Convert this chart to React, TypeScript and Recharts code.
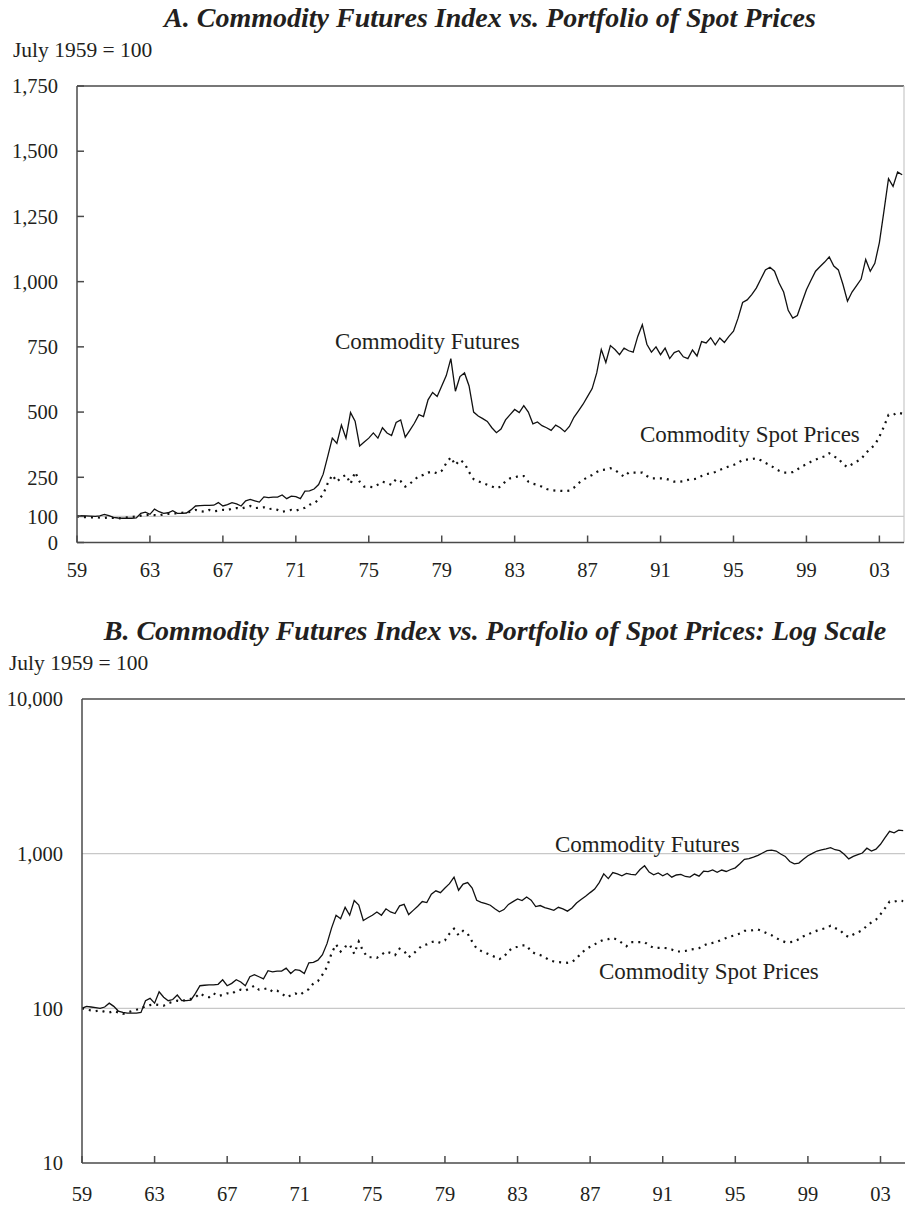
import { LineChart, Line, XAxis, YAxis, ReferenceLine } from 'recharts';

// quarterly observations, first one is 1959 Q1
const startYear = 1959;
const endYear = 2004.35;

const futures: number[] = [
  100, 103, 102, 101, // 1959
  100, 102, 108, 103, // 1960
  96, 94, 93, 93, // 1961
  93, 94, 112, 116, // 1962
  108, 128, 118, 112, // 1963
  114, 122, 112, 112, // 1964
  113, 125, 140, 141, // 1965
  142, 142, 143, 153, // 1966
  140, 145, 153, 148, // 1967
  140, 160, 165, 160, // 1968
  155, 175, 172, 174, // 1969
  174, 182, 168, 178, // 1970
  176, 168, 197, 198, // 1971
  205, 222, 262, 330, // 1972
  400, 380, 450, 400, // 1973
  498, 465, 370, 385, // 1974
  400, 420, 400, 440, // 1975
  420, 410, 460, 470, // 1976
  404, 430, 457, 490, // 1977
  483, 547, 575, 560, // 1978
  600, 640, 705, 580, // 1979
  636, 650, 600, 500, // 1980
  485, 475, 464, 440, // 1981
  421, 435, 470, 490, // 1982
  510, 498, 525, 500, // 1983
  455, 462, 448, 440, // 1984
  430, 450, 440, 425, // 1985
  445, 480, 505, 530, // 1986
  560, 590, 650, 740, // 1987
  690, 755, 740, 720, // 1988
  745, 735, 730, 790, // 1989
  835, 760, 730, 750, // 1990
  720, 745, 705, 728, // 1991
  735, 712, 705, 738, // 1992
  715, 770, 765, 785, // 1993
  758, 784, 767, 790, // 1994
  810, 860, 920, 930, // 1995
  950, 975, 1010, 1045, // 1996
  1055, 1040, 995, 960, // 1997
  890, 860, 870, 920, // 1998
  969, 1005, 1040, 1058, // 1999
  1075, 1095, 1060, 1045, // 2000
  990, 925, 960, 985, // 2001
  1010, 1085, 1040, 1070, // 2002
  1150, 1270, 1395, 1365, // 2003
  1420, 1410, // 2004
];

const spot: number[] = [
  100, 98, 97, 96, // 1959
  97, 95, 94, 96, // 1960
  94, 92, 94, 96, // 1961
  98, 100, 103, 105, // 1962
  106, 105, 104, 108, // 1963
  110, 112, 111, 114, // 1964
  115, 118, 125, 120, // 1965
  118, 125, 120, 122, // 1966
  125, 124, 130, 132, // 1967
  130, 135, 140, 132, // 1968
  133, 135, 128, 130, // 1969
  125, 118, 121, 125, // 1970
  122, 128, 133, 145, // 1971
  150, 165, 185, 227, // 1972
  259, 233, 250, 259, // 1973
  225, 270, 233, 214, // 1974
  214, 212, 222, 233, // 1975
  228, 221, 243, 235, // 1976
  214, 225, 240, 255, // 1977
  259, 268, 272, 265, // 1978
  275, 304, 327, 297, // 1979
  317, 304, 270, 243, // 1980
  235, 228, 221, 215, // 1981
  208, 215, 235, 246, // 1982
  250, 255, 255, 233, // 1983
  225, 221, 214, 205, // 1984
  201, 199, 198, 197, // 1985
  199, 210, 227, 240, // 1986
  250, 259, 270, 278, // 1987
  280, 285, 278, 265, // 1988
  252, 268, 268, 268, // 1989
  268, 255, 246, 246, // 1990
  246, 245, 240, 233, // 1991
  233, 235, 240, 242, // 1992
  245, 255, 262, 265, // 1993
  270, 278, 285, 292, // 1994
  297, 305, 317, 318, // 1995
  320, 323, 315, 305, // 1996
  297, 285, 275, 268, // 1997
  268, 270, 280, 292, // 1998
  300, 310, 318, 325, // 1999
  330, 342, 330, 323, // 2000
  300, 289, 300, 310, // 2001
  320, 342, 360, 374, // 2002
  406, 444, 489, 489, // 2003
  498, 494, // 2004
];

const yearTicks = [1959, 1963, 1967, 1971, 1975, 1979, 1983, 1987, 1991, 1995, 1999, 2003];
const linearTicks = [0, 100, 250, 500, 750, 1000, 1250, 1500, 1750];
const logTicks = [10, 100, 1000, 10000];

const data = futures.map((f, i) => ({ t: startYear + i / 4, fut: f, spot: spot[i] }));

const FONT = '"Liberation Serif", "Times New Roman", serif';
const INK = '#231f20';
const AXIS = '#4a4a4a';
const GRID = '#c8c8c8';

const fmtYear = (v: number) => String(Math.round(v) % 100).padStart(2, '0');
const fmtNum = (v: number) => v.toLocaleString('en-US');

const tickStyle = { fontFamily: FONT, fontSize: 20.5, fill: INK };

function Text({ top, left, size, children, style }: any) {
  return (
    <div
      style={{
        position: 'absolute',
        top,
        left,
        fontFamily: FONT,
        fontSize: size,
        lineHeight: `${size}px`,
        color: INK,
        whiteSpace: 'nowrap',
        ...style,
      }}
    >
      {children}
    </div>
  );
}

function Title({ top, center, children }: any) {
  return (
    <div
      style={{
        position: 'absolute',
        top,
        left: center - 450,
        width: 900,
        textAlign: 'center',
        fontFamily: FONT,
        fontSize: 28,
        lineHeight: '28px',
        fontWeight: 'bold',
        fontStyle: 'italic',
        color: INK,
        whiteSpace: 'nowrap',
      }}
    >
      {children}
    </div>
  );
}

function Series() {
  return null;
}

export default function App() {
  return (
    <div style={{ position: 'absolute', top: 0, left: 0, width: 905, height: 1208, background: '#fff', overflow: 'hidden' }}>
      <Title top={4} center={490}>A. Commodity Futures Index vs. Portfolio of Spot Prices</Title>
      <Text top={40} left={13} size={21.5}>July 1959 = 100</Text>

      <div style={{ position: 'absolute', top: 0, left: 0 }}>
        <LineChart width={905} height={600} data={data} margin={{ top: 86, right: 1, left: 0, bottom: 17.5 }}>
          <XAxis
            dataKey="t"
            type="number"
            domain={[startYear, endYear]}
            ticks={yearTicks}
            interval={0}
            allowDataOverflow
            tickFormatter={fmtYear}
            height={40}
            tickSize={-7}
            tickMargin={27}
            stroke={AXIS}
            strokeWidth={1.5}
            tick={tickStyle}
          />
          <YAxis
            type="number"
            domain={[0, 1750]}
            ticks={linearTicks}
            interval={0}
            allowDataOverflow
            tickFormatter={fmtNum}
            width={77}
            tickSize={-7}
            tickMargin={26}
            stroke={AXIS}
            strokeWidth={1.5}
            tick={tickStyle}
          />
          <ReferenceLine y={100} stroke={GRID} strokeWidth={1.2} />
          <ReferenceLine y={1750} stroke={AXIS} strokeWidth={1.5} />
          <ReferenceLine x={endYear} stroke={GRID} strokeWidth={1.2} />
          <Line dataKey="spot" type="linear" stroke="#111" strokeWidth={2.2} strokeDasharray="2 5" dot={false} isAnimationActive={false} />
          <Line dataKey="fut" type="linear" stroke="#111" strokeWidth={1.3} dot={false} isAnimationActive={false} />
        </LineChart>
      </div>

      <Text top={330} left={335} size={23}>Commodity Futures</Text>
      <Text top={423} left={640} size={23}>Commodity Spot Prices</Text>

      <Title top={617} center={495}>B. Commodity Futures Index vs. Portfolio of Spot Prices: Log Scale</Title>
      <Text top={653} left={9} size={21.5}>July 1959 = 100</Text>

      <div style={{ position: 'absolute', top: 600, left: 0 }}>
        <LineChart width={905} height={608} data={data} margin={{ top: 99, right: 0, left: 0, bottom: 5 }}>
          <XAxis
            dataKey="t"
            type="number"
            domain={[startYear, endYear]}
            ticks={yearTicks}
            interval={0}
            allowDataOverflow
            tickFormatter={fmtYear}
            height={40}
            tickSize={-7}
            tickMargin={30}
            stroke={AXIS}
            strokeWidth={1.5}
            tick={tickStyle}
          />
          <YAxis
            type="number"
            scale="log"
            domain={[10, 10000]}
            ticks={logTicks}
            interval={0}
            allowDataOverflow
            tickFormatter={fmtNum}
            width={82}
            tickSize={0}
            tickMargin={19}
            stroke={AXIS}
            strokeWidth={1.5}
            tick={tickStyle}
          />
          <ReferenceLine y={100} stroke={GRID} strokeWidth={1.2} />
          <ReferenceLine y={1000} stroke={GRID} strokeWidth={1.2} />
          <ReferenceLine y={10000} stroke={AXIS} strokeWidth={1.5} />
          <Line dataKey="spot" type="linear" stroke="#111" strokeWidth={2.2} strokeDasharray="2 5" dot={false} isAnimationActive={false} />
          <Line dataKey="fut" type="linear" stroke="#111" strokeWidth={1.3} dot={false} isAnimationActive={false} />
        </LineChart>
      </div>

      <Text top={833} left={555} size={23}>Commodity Futures</Text>
      <Text top={960} left={599} size={23}>Commodity Spot Prices</Text>
    </div>
  );
}
